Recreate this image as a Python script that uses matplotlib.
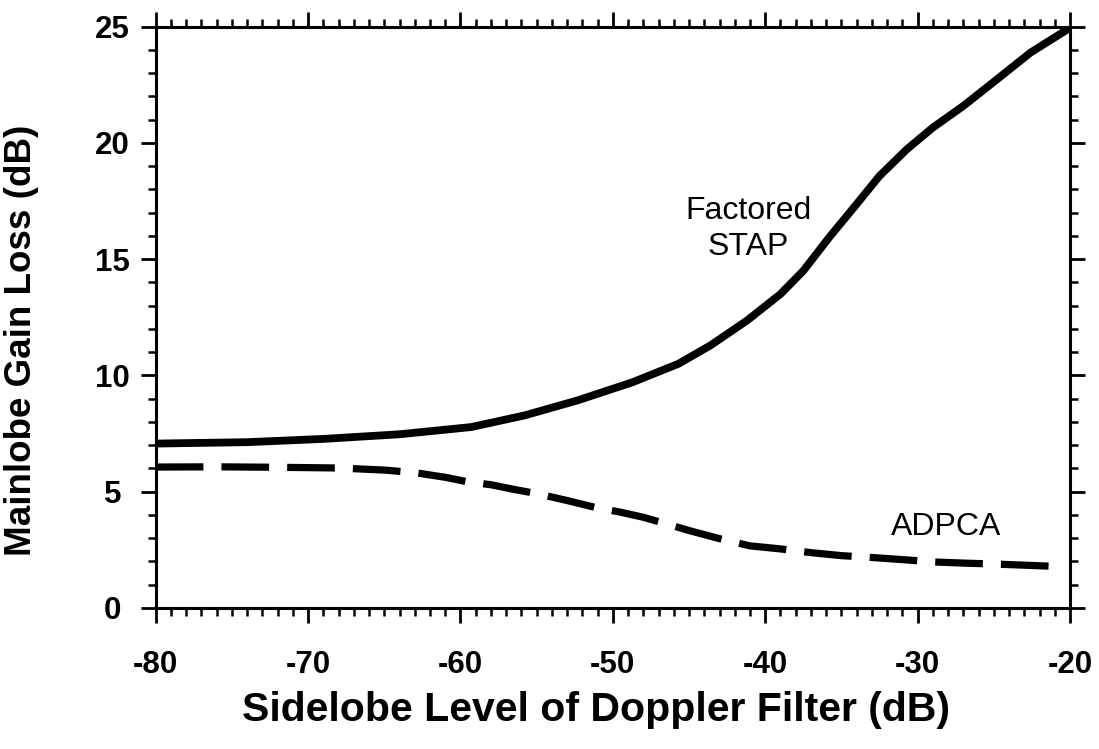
import matplotlib
matplotlib.use("Agg")
import matplotlib.pyplot as plt
from matplotlib.ticker import MultipleLocator

# Data
stap_x = [-80, -74, -69, -64, -59.3, -55.8, -52.3, -48.7, -45.7, -43.6, -41.2, -39, -37.5,
          -35.8, -34, -32.5, -30.7, -29, -27, -24.8, -22.6, -20]
stap_y = [7.07, 7.13, 7.27, 7.47, 7.78, 8.28, 8.93, 9.71, 10.5, 11.29, 12.36, 13.5, 14.5,
          15.94, 17.37, 18.58, 19.73, 20.66, 21.59, 22.73, 23.88, 24.95]

adpca_x = [-80, -76, -72, -68, -65, -63, -61, -59.5, -58, -56.5, -55, -53, -51, -49.5, -48,
           -46.5, -45, -43, -41, -39, -37, -35, -33, -31, -29, -27, -25, -23, -21]
adpca_y = [6.06, 6.07, 6.05, 6.02, 5.93, 5.82, 5.62, 5.42, 5.3, 5.1, 4.92, 4.62, 4.3, 4.12, 3.9,
           3.62, 3.33, 2.98, 2.67, 2.54, 2.38, 2.25, 2.17, 2.08, 1.98, 1.93, 1.89, 1.84, 1.79]

x_ticks = [-80, -70, -60, -50, -40, -30, -20]
y_ticks = [0, 5, 10, 15, 20, 25]

plt.rcParams['font.family'] = ['Liberation Sans', 'DejaVu Sans']
plt.rcParams['axes.unicode_minus'] = False

fig = plt.figure(figsize=(10.99, 7.49), dpi=100)
ax = fig.add_axes([0.1417, 0.1883, 0.9736 - 0.1417, 0.9644 - 0.1883])

ax.plot(stap_x, stap_y, color='black', lw=5.6, solid_capstyle='butt', solid_joinstyle='round')
ax.plot(adpca_x, adpca_y, color='black', lw=5.2, dashes=(6.6, 2.5), dash_capstyle='butt',
        dash_joinstyle='round')

ax.set_xlim(-80, -20)
ax.set_ylim(0, 25)
ax.set_xticks(x_ticks)
ax.set_yticks(y_ticks)
ax.xaxis.set_minor_locator(MultipleLocator(1))
ax.yaxis.set_minor_locator(MultipleLocator(1))

for s in ax.spines.values():
    s.set_linewidth(2.2)

ax.tick_params(which='major', direction='out', length=11, width=2, top=True, right=True,
               labelsize=22.5, pad=19)
ax.tick_params(which='minor', direction='out', length=5.5, width=1.8, top=True, right=True)
ax.tick_params(axis='y', which='major', pad=20)
for lbl in ax.get_xticklabels() + ax.get_yticklabels():
    lbl.set_fontweight('bold')
for lbl in ax.get_yticklabels():
    lbl.set_horizontalalignment('center')

ax.text(-41.1, 16.3, 'Factored\nSTAP', fontsize=23, ha='center', va='center', linespacing=1.25)
ax.text(-28.1, 3.48, 'ADPCA', fontsize=23, ha='center', va='center')

fig.text(596 / 1099, 1 - 710 / 749, 'Sidelobe Level of Doppler Filter (dB)', fontsize=29.5,
         fontweight='bold', ha='center', va='center')
fig.text(22 / 1099, 1 - 340 / 749, 'Mainlobe Gain Loss (dB)', fontsize=26.5, fontweight='bold',
         ha='center', va='center', rotation=90)

fig.savefig('out.png', dpi=100, facecolor='white')
